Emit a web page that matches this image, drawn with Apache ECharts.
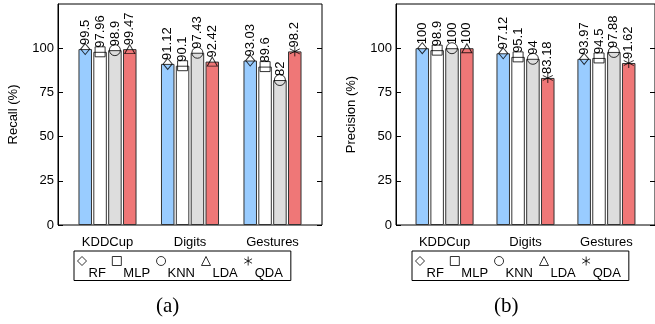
<!DOCTYPE html>
<html>
<head>
<meta charset="utf-8">
<script src="https://cdn.jsdelivr.net/npm/echarts@6/dist/echarts.min.js"></script>
<style>
html, body { margin: 0; padding: 0; background: #fff; }
#chart { width: 655px; height: 324px; }
</style>
</head>
<body>
<div id="chart"></div>
<script>
// categories and ticks
var datasets = ['KDDCup', 'Digits', 'Gestures'];
var yTicks = [0, 25, 50, 75, 100];
var legendNames = ['RF', 'MLP', 'KNN', 'LDA', 'QDA'];

// recall (%)
var recallRF = [99.5, 91.12, 93.03];
var recallMLP = [97.96, 90.1, 89.6];
var recallKNN = [98.9, 97.43, 82];
var recallDA = [99.47, 92.42, 98.2];
var recallDAModel = ['LDA', 'LDA', 'QDA'];

// precision (%)
var precisionRF = [100, 97.12, 93.97];
var precisionMLP = [98.9, 95.1, 94.5];
var precisionKNN = [100, 94, 97.88];
var precisionDA = [100, 83.18, 91.62];
var precisionDAModel = ['LDA', 'QDA', 'QDA'];

var FONT = 'Liberation Sans';
var barColors = ['#99ccff', '#ffffff', '#dddddd', '#ef7777'];
// pixel offset of each bar centre from the group centre (barWidth 13.5, gap 10%)
var barOffsets = [-22.3, -7.4, 7.4, 22.3];
var starPath = 'path://M5,0L5,10M0.7,2.5L9.3,7.5M0.7,7.5L9.3,2.5';
var markerSymbol = { RF: 'diamond', MLP: 'rect', KNN: 'circle', LDA: 'triangle', QDA: starPath };
var markerSize = { RF: [9, 11], MLP: 10, KNN: 11, LDA: [10, 9], QDA: 10 };
var hollow = { color: 'rgba(0,0,0,0)', borderColor: '#000', borderWidth: 1 };

var chart = echarts.init(document.getElementById('chart'), null, { renderer: 'canvas' });

function toPoints(vals) {
	return vals.map(function(v, i) { return [i, v]; });
}

/**
 * bars + markers of one panel
 */
function panelSeries(idx, rf, mlp, knn, da, daModel) {
	var series = [];
	var groups = [rf, mlp, knn, da];
	groups.forEach(function(vals, k) {
		series.push({
			type: 'bar',
			name: 'bar' + idx + '_' + k,
			xAxisIndex: idx,
			yAxisIndex: idx * 2,
			data: toPoints(vals),
			barWidth: 13.5,
			barGap: '10%',
			silent: true,
			itemStyle: { color: barColors[k], borderColor: '#333', borderWidth: 1 },
			label: {
				show: true,
				position: 'top',
				distance: 4,
				rotate: 90,
				align: 'left',
				verticalAlign: 'middle',
				fontFamily: FONT,
				fontSize: 13,
				color: '#000',
				formatter: function(p) { return p.value[1]; }
			}
		});
	});
	// marker source: which bar each legend entry sits on
	var sources = {
		RF: [rf, 0, null],
		MLP: [mlp, 1, null],
		KNN: [knn, 2, null],
		LDA: [da, 3, 'LDA'],
		QDA: [da, 3, 'QDA']
	};
	legendNames.forEach(function(name) {
		var src = sources[name];
		var pts = [];
		src[0].forEach(function(v, i) {
			if (src[2] === null || daModel[i] === src[2]) pts.push([i, v]);
		});
		series.push({
			type: 'scatter',
			name: name,
			xAxisIndex: idx,
			yAxisIndex: idx * 2,
			data: pts,
			symbol: markerSymbol[name],
			symbolSize: markerSize[name],
			symbolOffset: [barOffsets[src[1]], 0],
			itemStyle: hollow,
			silent: true,
			z: 3
		});
	});
	return series;
}

function makeGrid(left) {
	return {
		left: left, top: 4, width: 264, height: 221,
		show: true, borderColor: '#000', borderWidth: 1,
		backgroundColor: 'transparent'
	};
}

function makeX(idx) {
	return {
		type: 'value', gridIndex: idx, min: -0.6, max: 2.6,
		axisLine: { show: false, onZero: false },
		axisTick: { show: false },
		splitLine: { show: false },
		axisLabel: {
			customValues: [0, 1, 2],
			formatter: function(v) { return datasets[Math.round(v)]; },
			fontFamily: FONT, fontSize: 13, color: '#000', margin: 11
		}
	};
}

function makeY(idx, name) {
	return [{
		type: 'value', gridIndex: idx, min: 0, max: 125,
		name: name, nameLocation: 'middle', nameGap: 38,
		nameTextStyle: { fontFamily: FONT, fontSize: 13, color: '#000' },
		axisLine: { show: true, onZero: false, lineStyle: { color: '#000', width: 1 } },
		axisTick: { show: true, inside: true, length: 5, customValues: yTicks, lineStyle: { color: '#000' } },
		axisLabel: { customValues: yTicks, fontFamily: FONT, fontSize: 13, color: '#000', margin: 4 },
		splitLine: { show: false }
	}, {
		// mirrored ticks on the right edge
		type: 'value', gridIndex: idx, min: 0, max: 125, position: 'right',
		axisLine: { show: false, onZero: false },
		axisTick: { show: true, inside: true, length: 5, customValues: yTicks, lineStyle: { color: '#000' } },
		axisLabel: { show: false },
		splitLine: { show: false }
	}];
}

function makeLegend(left) {
	return {
		left: left, top: 251,
		orient: 'horizontal',
		data: legendNames,
		itemWidth: 9, itemHeight: 9, itemGap: 6,
		itemStyle: hollow,
		// text sits lower than the symbol
		formatter: '{t|{name}}',
		textStyle: {
			fontFamily: FONT, fontSize: 13, color: '#000',
			rich: { t: { fontFamily: FONT, fontSize: 13, color: '#000', padding: [24, 0, 0, -3] } }
		},
		borderColor: '#000', borderWidth: 1,
		padding: [5, 8, 1, 3],
		selectedMode: false
	};
}

function makeTitle(text, left) {
	return {
		text: text, left: left, top: 296, padding: 0,
		textStyle: { fontFamily: 'Liberation Serif', fontSize: 21, fontWeight: 'normal', color: '#000' }
	};
}

var series = panelSeries(0, recallRF, recallMLP, recallKNN, recallDA, recallDAModel)
	.concat(panelSeries(1, precisionRF, precisionMLP, precisionKNN, precisionDA, precisionDAModel));

chart.setOption({
	animation: false,
	backgroundColor: '#fff',
	title: [makeTitle('(a)', 156), makeTitle('(b)', 494)],
	legend: [makeLegend(74), makeLegend(412)],
	grid: [makeGrid(58), makeGrid(396)],
	xAxis: [makeX(0), makeX(1)],
	yAxis: makeY(0, 'Recall (%)').concat(makeY(1, 'Precision (%)')),
	series: series
});
</script>
</body>
</html>
